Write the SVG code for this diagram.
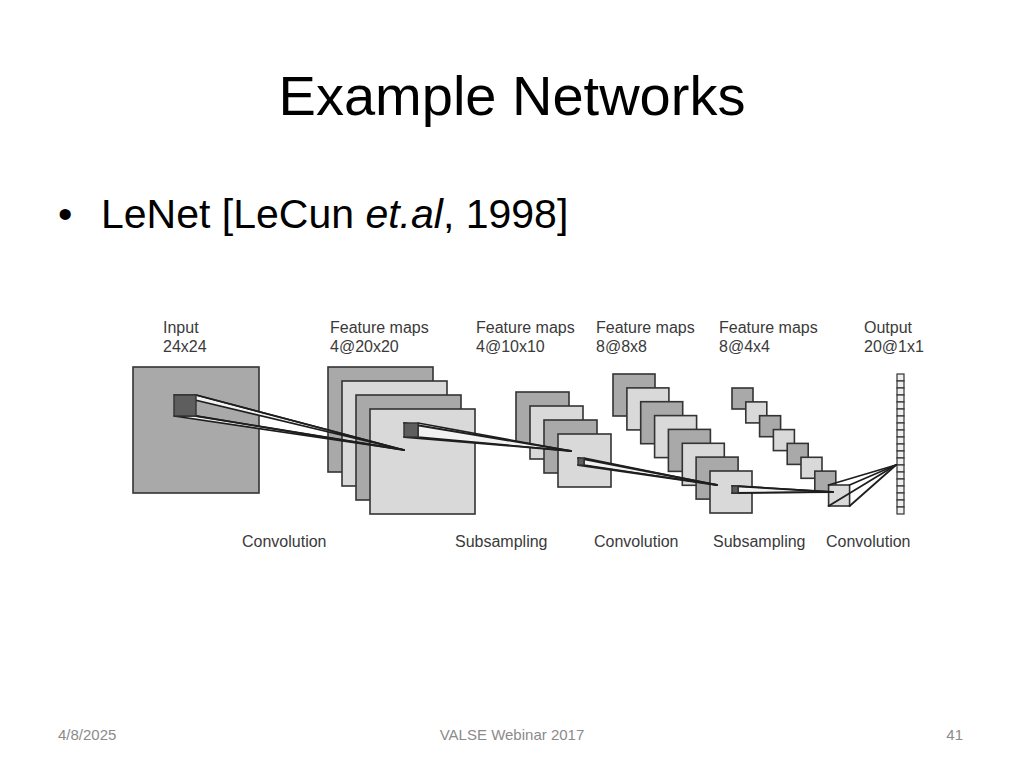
<svg xmlns="http://www.w3.org/2000/svg" width="1024" height="768" viewBox="0 0 1024 768">
<style>
  .slide { font-family: "Liberation Sans", Arial, sans-serif; fill: #000; }
  .foot { font-family: "Liberation Sans", Arial, sans-serif; font-size: 15px; fill: #8b8b8b; }
  .lbl { font-family: "Liberation Sans", Arial, sans-serif; font-size: 16px; fill: #3a3a3a; }
  .dk { fill: #a9a9a9; stroke: #333; stroke-width: 1.6; }
  .lt { fill: #d9d9d9; stroke: #333; stroke-width: 1.6; }
  .kern { fill: #5e5e5e; stroke: #333; stroke-width: 1.4; }
  .ln { stroke: #1e1e1e; stroke-width: 1.8; fill: none; stroke-linecap: round; }
  .face { fill: #f2f2f2; stroke: #1e1e1e; stroke-width: 1.6; stroke-linejoin: round; }
  .cell { fill: #eeeeee; stroke: #333; stroke-width: 1.2; }
</style>
<rect width="1024" height="768" fill="#ffffff"/>

<g id="title">
  <text class="slide" x="512" y="115" font-size="56" text-anchor="middle">Example Networks</text>
</g>
<g id="bullet">
  <text class="slide" x="58" y="228" font-size="41">•</text>
  <text class="slide" x="101" y="228" font-size="41">LeNet [LeCun <tspan font-style="italic">et.al</tspan>, 1998]</text>
</g>

<g id="layer-input">
  <rect class="dk" x="133" y="367" width="126" height="126"/>
</g>

<g id="layer-c1">
  <rect class="dk" x="328" y="367" width="105" height="105"/>
  <rect class="lt" x="342" y="381" width="105" height="105"/>
  <rect class="dk" x="356" y="395" width="105" height="105"/>
  <rect class="lt" x="370" y="409" width="105" height="105"/>
</g>

<g id="layer-s2">
  <rect class="dk" x="516" y="392" width="53" height="53"/>
  <rect class="lt" x="530" y="406" width="53" height="53"/>
  <rect class="dk" x="544" y="420" width="53" height="53"/>
  <rect class="lt" x="558" y="434" width="53" height="53"/>
</g>

<g id="layer-c3">
  <rect class="dk" x="613" y="374" width="42" height="42"/>
  <rect class="lt" x="626.9" y="387.9" width="42" height="42"/>
  <rect class="dk" x="640.7" y="401.7" width="42" height="42"/>
  <rect class="lt" x="654.6" y="415.6" width="42" height="42"/>
  <rect class="dk" x="668.4" y="429.4" width="42" height="42"/>
  <rect class="lt" x="682.3" y="443.3" width="42" height="42"/>
  <rect class="dk" x="696.1" y="457.1" width="42" height="42"/>
  <rect class="lt" x="710" y="471" width="42" height="42"/>
</g>

<g id="layer-s4">
  <rect class="dk" x="732" y="388" width="21" height="21"/>
  <rect class="lt" x="745.8" y="401.9" width="21" height="21"/>
  <rect class="dk" x="759.6" y="415.7" width="21" height="21"/>
  <rect class="lt" x="773.4" y="429.6" width="21" height="21"/>
  <rect class="dk" x="787.2" y="443.4" width="21" height="21"/>
  <rect class="lt" x="801" y="457.3" width="21" height="21"/>
  <rect class="dk" x="814.8" y="471.1" width="21" height="21"/>
  <rect class="lt" x="828.6" y="485" width="21" height="21"/>
</g>

<g id="layer-output">
  <rect class="cell" x="897" y="374" width="7" height="7"/>
  <rect class="cell" x="897" y="381" width="7" height="7"/>
  <rect class="cell" x="897" y="388" width="7" height="7"/>
  <rect class="cell" x="897" y="395" width="7" height="7"/>
  <rect class="cell" x="897" y="402" width="7" height="7"/>
  <rect class="cell" x="897" y="409" width="7" height="7"/>
  <rect class="cell" x="897" y="416" width="7" height="7"/>
  <rect class="cell" x="897" y="423" width="7" height="7"/>
  <rect class="cell" x="897" y="430" width="7" height="7"/>
  <rect class="cell" x="897" y="437" width="7" height="7"/>
  <rect class="cell" x="897" y="444" width="7" height="7"/>
  <rect class="cell" x="897" y="451" width="7" height="7"/>
  <rect class="cell" x="897" y="458" width="7" height="7"/>
  <rect class="cell" x="897" y="465" width="7" height="7"/>
  <rect class="cell" x="897" y="472" width="7" height="7"/>
  <rect class="cell" x="897" y="479" width="7" height="7"/>
  <rect class="cell" x="897" y="486" width="7" height="7"/>
  <rect class="cell" x="897" y="493" width="7" height="7"/>
  <rect class="cell" x="897" y="500" width="7" height="7"/>
  <rect class="cell" x="897" y="507" width="7" height="7"/>
</g>

<g id="connectors">
  <!-- input kernel to C1 -->
  <polygon class="face" points="174,395 196,395 404,450"/>
  <polygon class="face" points="174,416 196,416 404,450"/>
  <line class="ln" x1="196" y1="395" x2="404" y2="450"/>
  <line class="ln" x1="196" y1="416" x2="404" y2="450"/>
  <rect class="kern" x="174" y="395" width="22" height="21"/>
  <!-- C1 kernel to S2 -->
  <polygon class="face" points="418,423 571,451 418,437"/>
  <line class="ln" x1="404" y1="423" x2="571" y2="451"/>
  <line class="ln" x1="404" y1="437" x2="571" y2="451"/>
  <rect class="kern" x="404" y="423" width="14" height="14"/>
  <!-- S2 kernel to C3 -->
  <polygon class="face" points="584,458 717,485 584,465"/>
  <line class="ln" x1="578" y1="458" x2="717" y2="485"/>
  <line class="ln" x1="578" y1="465" x2="717" y2="485"/>
  <rect class="kern" x="578" y="458" width="6" height="7"/>
  <!-- C3 kernel to S4 -->
  <polygon class="face" points="738,486 833,492 738,493"/>
  <line class="ln" x1="732" y1="486" x2="833" y2="492"/>
  <line class="ln" x1="732" y1="493" x2="833" y2="492"/>
  <rect class="kern" x="732" y="486" width="6" height="7"/>
  <!-- S4 map to output -->
  <line class="ln" x1="828.6" y1="485" x2="896" y2="465"/>
  <line class="ln" x1="849.6" y1="485" x2="896" y2="465"/>
  <line class="ln" x1="849.6" y1="506" x2="896" y2="465"/>
  <line class="ln" x1="828.6" y1="506" x2="896" y2="465"/>
</g>

<g id="labels">
  <text class="lbl" x="163" y="333">Input</text>
  <text class="lbl" x="163" y="352">24x24</text>
  <text class="lbl" x="330" y="333">Feature maps</text>
  <text class="lbl" x="330" y="352">4@20x20</text>
  <text class="lbl" x="476" y="333">Feature maps</text>
  <text class="lbl" x="476" y="352">4@10x10</text>
  <text class="lbl" x="596" y="333">Feature maps</text>
  <text class="lbl" x="596" y="352">8@8x8</text>
  <text class="lbl" x="719" y="333">Feature maps</text>
  <text class="lbl" x="719" y="352">8@4x4</text>
  <text class="lbl" x="864" y="333">Output</text>
  <text class="lbl" x="864" y="352">20@1x1</text>
  <text class="lbl" x="242" y="547">Convolution</text>
  <text class="lbl" x="455" y="547">Subsampling</text>
  <text class="lbl" x="594" y="547">Convolution</text>
  <text class="lbl" x="713" y="547">Subsampling</text>
  <text class="lbl" x="826" y="547">Convolution</text>
</g>

<g id="footer">
  <text class="foot" x="58" y="740">4/8/2025</text>
  <text class="foot" x="512" y="740" text-anchor="middle">VALSE Webinar 2017</text>
  <text class="foot" x="963" y="740" text-anchor="end">41</text>
</g>
</svg>
